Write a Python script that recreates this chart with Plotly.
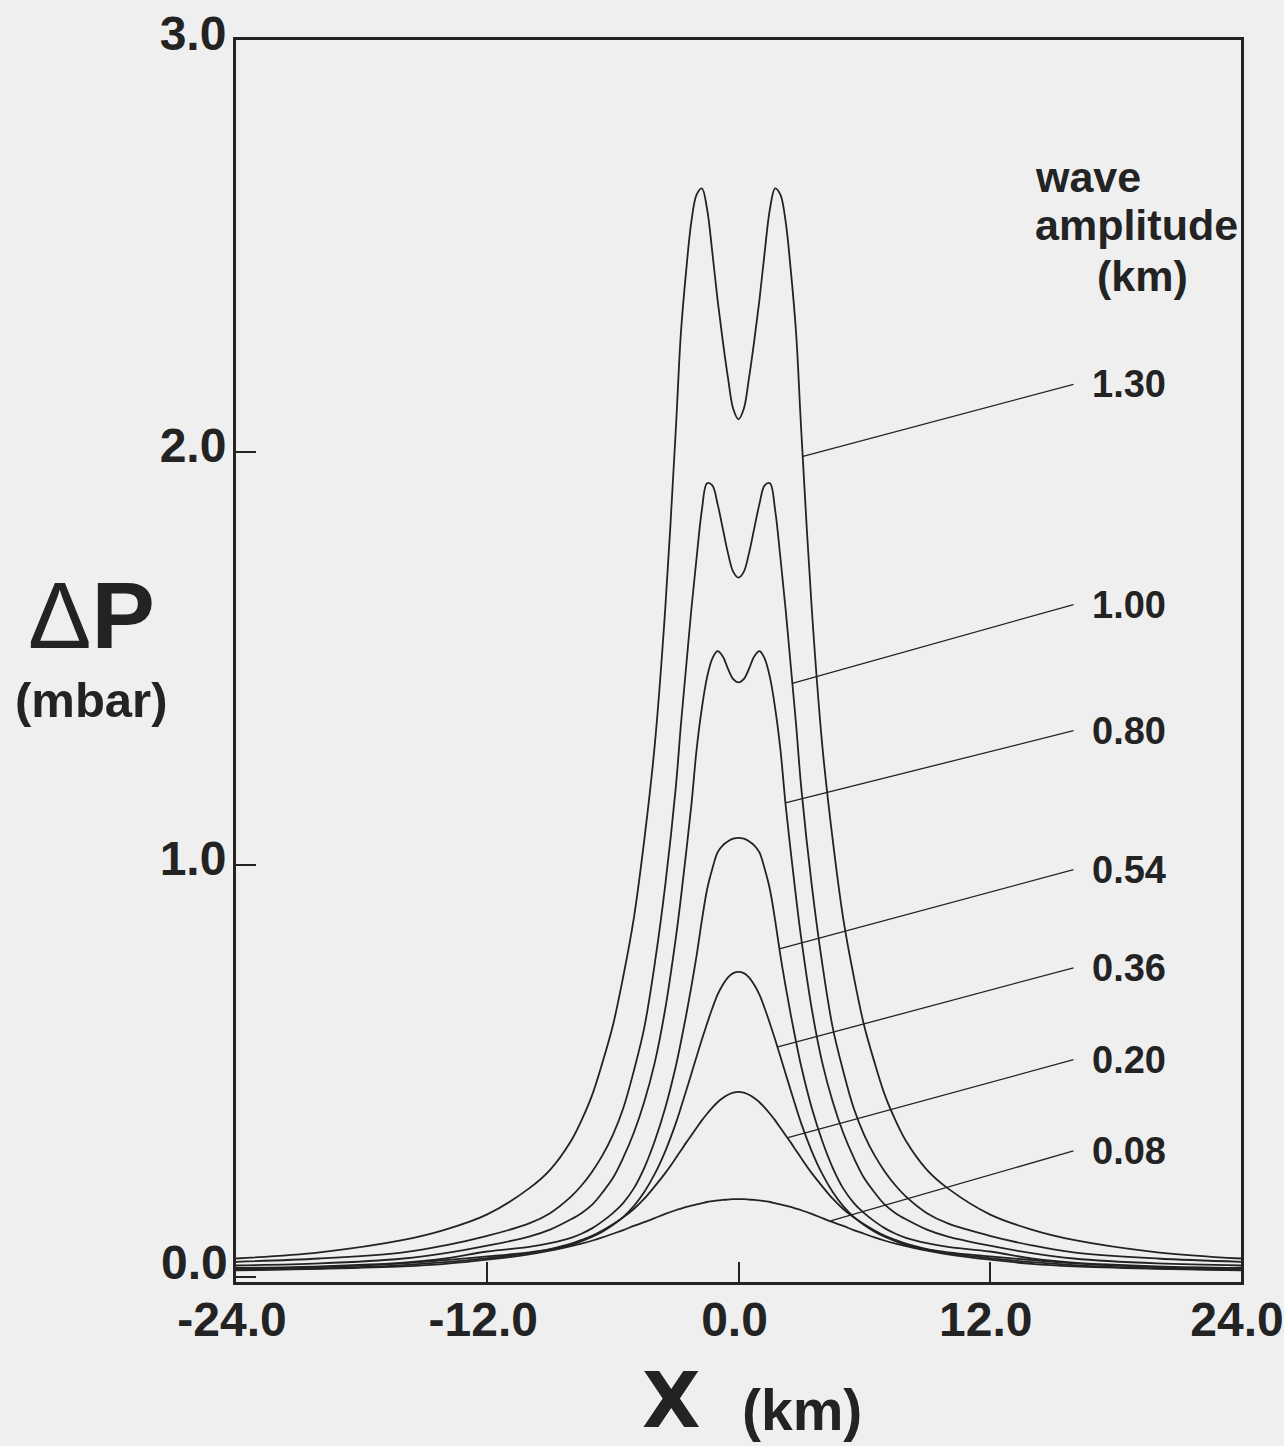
import plotly.graph_objects as go

# ---------------- data ----------------
AMPLITUDE_LABELS = ["1.30", "1.00", "0.80", "0.54", "0.36", "0.20", "0.08"]

X_KM = [-24, -20, -16, -14, -12, -10, -9, -8, -7.5, -7, -6.5, -6, -5.5, -5, -4.5, -4, -3.5,
        -3, -2.75, -2.5, -2.25, -2, -1.75, -1.5, -1.25, -1, -0.75, -0.5, -0.25,
        0,
        0.25, 0.5, 0.75, 1, 1.25, 1.5, 1.75, 2, 2.25, 2.5, 2.75, 3,
        3.5, 4, 4.5, 5, 5.5, 6, 6.5, 7, 7.5, 8, 9, 10, 12, 14, 16, 20, 24]

DP_130 = [0.045, 0.06, 0.09, 0.115, 0.152, 0.215, 0.26, 0.33, 0.38, 0.44, 0.52, 0.61, 0.73, 0.87, 1.06, 1.29, 1.62,
          2.05, 2.29, 2.44, 2.56, 2.625, 2.64, 2.59, 2.485, 2.37, 2.27, 2.18, 2.105,
          2.08,
          2.105, 2.18, 2.27, 2.37, 2.485, 2.59, 2.64, 2.625, 2.56, 2.44, 2.29, 2.05,
          1.62, 1.29, 1.06, 0.87, 0.73, 0.61, 0.52, 0.44, 0.38, 0.33, 0.26, 0.215, 0.152, 0.115, 0.09, 0.06, 0.045]

DP_100 = [0.037, 0.045, 0.06, 0.077, 0.10, 0.13, 0.155, 0.195, 0.222, 0.255, 0.295, 0.345, 0.41, 0.50, 0.605, 0.76, 0.95,
          1.185, 1.34, 1.48, 1.62, 1.745, 1.86, 1.925, 1.92, 1.875, 1.815, 1.755, 1.71,
          1.696,
          1.71, 1.755, 1.815, 1.875, 1.92, 1.925, 1.86, 1.745, 1.62, 1.48, 1.34, 1.185,
          0.95, 0.76, 0.605, 0.50, 0.41, 0.345, 0.295, 0.255, 0.222, 0.195, 0.155, 0.13, 0.10, 0.077, 0.06, 0.045, 0.037]

DP_080 = [0.028, 0.033, 0.045, 0.058, 0.076, 0.098, 0.115, 0.14, 0.155, 0.175, 0.205, 0.24, 0.29, 0.35, 0.425, 0.52, 0.65,
          0.82, 0.92, 1.03, 1.145, 1.28, 1.38, 1.455, 1.50, 1.518, 1.505, 1.475, 1.45,
          1.442,
          1.45, 1.475, 1.505, 1.518, 1.50, 1.455, 1.38, 1.28, 1.145, 1.03, 0.92, 0.82,
          0.65, 0.52, 0.425, 0.35, 0.29, 0.24, 0.205, 0.175, 0.155, 0.14, 0.115, 0.098, 0.076, 0.058, 0.045, 0.033, 0.028]

DP_054 = [0.022, 0.026, 0.035, 0.045, 0.062, 0.073, 0.082, 0.095, 0.105, 0.118, 0.135, 0.155, 0.18, 0.215, 0.265, 0.33, 0.41,
          0.51, 0.57, 0.635, 0.705, 0.78, 0.865, 0.94, 0.99, 1.03, 1.047, 1.057, 1.063,
          1.065,
          1.063, 1.057, 1.047, 1.03, 0.99, 0.94, 0.865, 0.78, 0.705, 0.635, 0.57, 0.51,
          0.41, 0.33, 0.265, 0.215, 0.18, 0.155, 0.135, 0.118, 0.105, 0.095, 0.082, 0.073, 0.062, 0.045, 0.035, 0.026, 0.022]

DP_036 = [0.02, 0.024, 0.033, 0.041, 0.05, 0.06, 0.067, 0.078, 0.087, 0.097, 0.11, 0.126, 0.146, 0.172, 0.206, 0.25, 0.305,
          0.372, 0.411, 0.452, 0.493, 0.535, 0.576, 0.615, 0.652, 0.685, 0.709, 0.727, 0.737,
          0.740,
          0.737, 0.727, 0.709, 0.685, 0.652, 0.615, 0.576, 0.535, 0.493, 0.452, 0.411, 0.372,
          0.305, 0.25, 0.206, 0.172, 0.146, 0.126, 0.11, 0.097, 0.087, 0.078, 0.067, 0.06, 0.05, 0.041, 0.033, 0.024, 0.02]

DP_020 = [0.017, 0.021, 0.029, 0.036, 0.046, 0.058, 0.068, 0.081, 0.09, 0.10, 0.113, 0.128, 0.145, 0.165, 0.19, 0.22, 0.252,
          0.288, 0.307, 0.326, 0.344, 0.362, 0.38, 0.396, 0.411, 0.424, 0.434, 0.442, 0.447,
          0.449,
          0.447, 0.442, 0.434, 0.424, 0.411, 0.396, 0.38, 0.362, 0.344, 0.326, 0.307, 0.288,
          0.252, 0.22, 0.19, 0.165, 0.145, 0.128, 0.113, 0.10, 0.09, 0.081, 0.068, 0.058, 0.046, 0.036, 0.029, 0.021, 0.017]

DP_008 = [0.016, 0.02, 0.026, 0.032, 0.042, 0.055, 0.064, 0.075, 0.081, 0.088, 0.096, 0.105, 0.114, 0.124, 0.133, 0.143, 0.153,
          0.162, 0.166, 0.17, 0.173, 0.176, 0.179, 0.182, 0.184, 0.186, 0.187, 0.188, 0.189,
          0.189,
          0.189, 0.188, 0.187, 0.186, 0.184, 0.182, 0.179, 0.176, 0.173, 0.17, 0.166, 0.162,
          0.153, 0.143, 0.133, 0.124, 0.114, 0.105, 0.096, 0.088, 0.081, 0.075, 0.064, 0.055, 0.042, 0.032, 0.026, 0.02, 0.016]

CURVES = [DP_130, DP_100, DP_080, DP_054, DP_036, DP_020, DP_008]

# where each label's leader line touches its curve (x km, dP mbar)
LEADER_X = [3.08, 2.57, 2.24, 1.95, 1.88, 2.36, 4.4]
LEADER_Y = [1.99, 1.44, 1.15, 0.796, 0.558, 0.338, 0.136]

X_TICKS = [-24, -12, 0, 12, 24]
X_TICK_TEXT = ["-24.0", "-12.0", "0.0", "12.0", "24.0"]
Y_TICKS = [0, 1, 2, 3]
Y_TICK_TEXT = ["", "1.0", "2.0", "3.0"]   # the 0.0 label sits a little higher, drawn below
Y_ZERO_TEXT = "0.0"

# ---------------- layout / style ----------------
W, H = 1284, 1446
L, R, T, B = 236, 1241, 40, 1282
FONT = "Liberation Sans, Arial, Helvetica, sans-serif"
INK = "#232323"
BG = "#efefef"


def px(xpix):
    return (xpix - L) / (R - L)


def py(ypix):
    return (B - ypix) / (B - T)


# label text positions (plot data space)
LABEL_TAIL_X = 16.0
LABEL_Y = [2.165, 1.631, 1.325, 0.988, 0.750, 0.527, 0.306]

fig = go.Figure()
for ys, name in zip(CURVES, AMPLITUDE_LABELS):
    fig.add_trace(go.Scatter(x=X_KM, y=ys, mode="lines", name=name,
                             line=dict(color=INK, width=1.8, shape="spline", smoothing=1.0),
                             showlegend=False, hoverinfo="skip"))

annotations = []
for name, lx, ly, ty in zip(AMPLITUDE_LABELS, LEADER_X, LEADER_Y, LABEL_Y):
    annotations.append(dict(x=lx, y=ly, xref="x", yref="y",
                            ax=LABEL_TAIL_X, ay=ty, axref="x", ayref="y",
                            text=name, showarrow=True, arrowhead=0, arrowwidth=1.3,
                            arrowcolor=INK, standoff=0, startstandoff=0,
                            xanchor="left", yanchor="middle", borderpad=17,
                            font=dict(family=FONT, size=38, color=INK, weight="bold")))

# legend heading
annotations += [
    dict(x=px(1033), y=py(177), xref="paper", yref="paper", text="wave", showarrow=False,
         xanchor="left", yanchor="middle", font=dict(family=FONT, size=43, color=INK, weight="bold")),
    dict(x=px(1033), y=py(225), xref="paper", yref="paper", text="amplitude", showarrow=False,
         xanchor="left", yanchor="middle", font=dict(family=FONT, size=43, color=INK, weight="bold")),
    dict(x=px(1142), y=py(276), xref="paper", yref="paper", text="(km)", showarrow=False,
         xanchor="center", yanchor="middle", font=dict(family=FONT, size=43, color=INK, weight="bold")),
]

# y = 0 tick label
annotations.append(dict(x=px(229), y=py(1262), xref="paper", yref="paper", text=Y_ZERO_TEXT,
                        showarrow=False, xanchor="right", yanchor="middle", borderpad=0,
                        font=dict(family=FONT, size=48, color=INK, weight="bold")))

# axis titles
annotations += [
    dict(x=px(91), y=py(615), xref="paper", yref="paper", text="Δ<b>P</b>", showarrow=False,
         xanchor="center", yanchor="middle", font=dict(family=FONT, size=95, color=INK)),
    dict(x=px(91), y=py(700), xref="paper", yref="paper", text="(mbar)", showarrow=False,
         xanchor="center", yanchor="middle", font=dict(family=FONT, size=49, color=INK, weight="bold")),
    dict(x=px(671), y=py(1446), xref="paper", yref="paper", text="X", showarrow=False, borderpad=0,
         xanchor="center", yanchor="bottom",
         font=dict(family="DejaVu Sans, Liberation Sans, sans-serif", size=76, color=INK, weight="bold")),
    dict(x=px(802), y=py(1443), xref="paper", yref="paper", text="(km)", showarrow=False, borderpad=0,
         xanchor="center", yanchor="bottom", font=dict(family=FONT, size=57, color=INK, weight="bold")),
]

axis_common = dict(showline=True, linecolor=INK, linewidth=3, mirror=True, showgrid=False,
                   zeroline=False, ticks="inside", ticklen=20, tickwidth=1.5, tickcolor=INK,
                   ticklabeloverflow="allow", automargin=False,
                   tickfont=dict(family=FONT, size=48, color=INK, weight="bold"))

fig.update_layout(
    width=W, height=H,
    margin=dict(l=L, r=W - R, t=T, b=H - B, autoexpand=False),
    paper_bgcolor=BG, plot_bgcolor=BG,
    xaxis=dict(range=[-24, 24], tickvals=X_TICKS, ticktext=X_TICK_TEXT,
               ticklabelstandoff=-7, ticklabelshift=-4, **axis_common),
    yaxis=dict(range=[-0.012, 3.0], tickvals=Y_TICKS, ticktext=Y_TICK_TEXT,
               ticklabelstandoff=-3, ticklabelshift=-7, **axis_common),
    annotations=annotations,
)

fig.write_html("out.html")
